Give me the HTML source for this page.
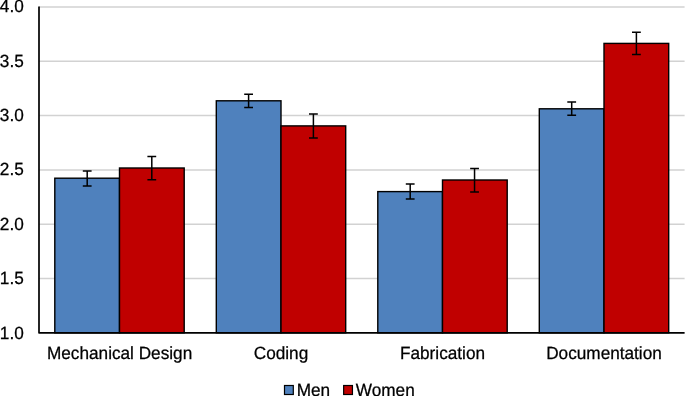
<!DOCTYPE html>
<html>
<head>
<meta charset="utf-8">
<style>
html,body{margin:0;padding:0;background:#fff;}
body{width:685px;height:396px;overflow:hidden;}
svg{display:block;will-change:transform;}
text{font-family:"Liberation Sans",sans-serif;font-size:17.2px;fill:#000;stroke:#000;stroke-width:0.25;text-rendering:geometricPrecision;}
</style>
</head>
<body>
<svg width="685" height="396" viewBox="0 0 685 396">
<rect width="685" height="396" fill="#fff"/>
<g stroke="#d2d2d2" stroke-width="1.5">
<line x1="39" x2="684.6" y1="7.00" y2="7.00"/>
<line x1="39" x2="684.6" y1="61.30" y2="61.30"/>
<line x1="39" x2="684.6" y1="115.60" y2="115.60"/>
<line x1="39" x2="684.6" y1="169.90" y2="169.90"/>
<line x1="39" x2="684.6" y1="224.20" y2="224.20"/>
<line x1="39" x2="684.6" y1="278.50" y2="278.50"/>
</g>
<g stroke="#000" stroke-width="1.4">
<rect x="54.80" y="178.20" width="64.7" height="154.60" fill="#4f81bd"/>
<rect x="119.50" y="168.00" width="64.7" height="164.80" fill="#c00000"/>
<rect x="216.30" y="100.80" width="64.7" height="232.00" fill="#4f81bd"/>
<rect x="281.00" y="125.90" width="64.7" height="206.90" fill="#c00000"/>
<rect x="377.80" y="191.60" width="64.7" height="141.20" fill="#4f81bd"/>
<rect x="442.50" y="180.00" width="64.7" height="152.80" fill="#c00000"/>
<rect x="539.30" y="108.80" width="64.7" height="224.00" fill="#4f81bd"/>
<rect x="604.00" y="43.40" width="64.7" height="289.40" fill="#c00000"/>
</g>
<g stroke="#000" stroke-width="1.5" fill="none">
<path d="M87.20 171.00V186.00M82.80 171.00H91.60M82.80 186.00H91.60"/>
<path d="M151.80 156.40V179.80M147.40 156.40H156.20M147.40 179.80H156.20"/>
<path d="M248.60 94.30V107.60M244.20 94.30H253.00M244.20 107.60H253.00"/>
<path d="M313.40 113.90V138.10M309.00 113.90H317.80M309.00 138.10H317.80"/>
<path d="M410.20 183.90V199.10M405.80 183.90H414.60M405.80 199.10H414.60"/>
<path d="M474.55 168.50V191.90M470.15 168.50H478.95M470.15 191.90H478.95"/>
<path d="M571.70 102.00V115.30M567.30 102.00H576.10M567.30 115.30H576.10"/>
<path d="M636.40 32.20V54.40M632.00 32.20H640.80M632.00 54.40H640.80"/>
</g>
<path d="M39 6.6V332.80H684.6" stroke="#000" stroke-width="1.7" stroke-linejoin="round" fill="none"/>
<text transform="translate(-0.15,12.30) scale(1,1.03)" text-anchor="start">4.0</text>
<text transform="translate(-0.15,67.00) scale(1,1.03)" text-anchor="start">3.5</text>
<text transform="translate(-0.15,121.20) scale(1,1.03)" text-anchor="start">3.0</text>
<text transform="translate(-0.15,175.40) scale(1,1.03)" text-anchor="start">2.5</text>
<text transform="translate(-0.15,229.60) scale(1,1.03)" text-anchor="start">2.0</text>
<text transform="translate(-0.15,283.80) scale(1,1.03)" text-anchor="start">1.5</text>
<text transform="translate(-0.15,338.60) scale(1,1.03)" text-anchor="start">1.0</text>
<text transform="translate(119.60,358.60) scale(1,1.03)" text-anchor="middle">Mechanical Design</text>
<text transform="translate(281.00,358.60) scale(1,1.03)" text-anchor="middle">Coding</text>
<text transform="translate(442.50,358.60) scale(1,1.03)" text-anchor="middle">Fabrication</text>
<text transform="translate(604.00,358.60) scale(1,1.03)" text-anchor="middle">Documentation</text>
<rect x="284.5" y="385.5" width="8.8" height="9" fill="#4f81bd" stroke="#000" stroke-width="1.2"/>
<text transform="translate(296.70,396.00) scale(1,1.03)" text-anchor="start">Men</text>
<rect x="343.65" y="385.5" width="8.8" height="9" fill="#c00000" stroke="#000" stroke-width="1.2"/>
<text transform="translate(355.80,396.00) scale(1,1.03)" text-anchor="start">Women</text>
</svg>
</body>
</html>
